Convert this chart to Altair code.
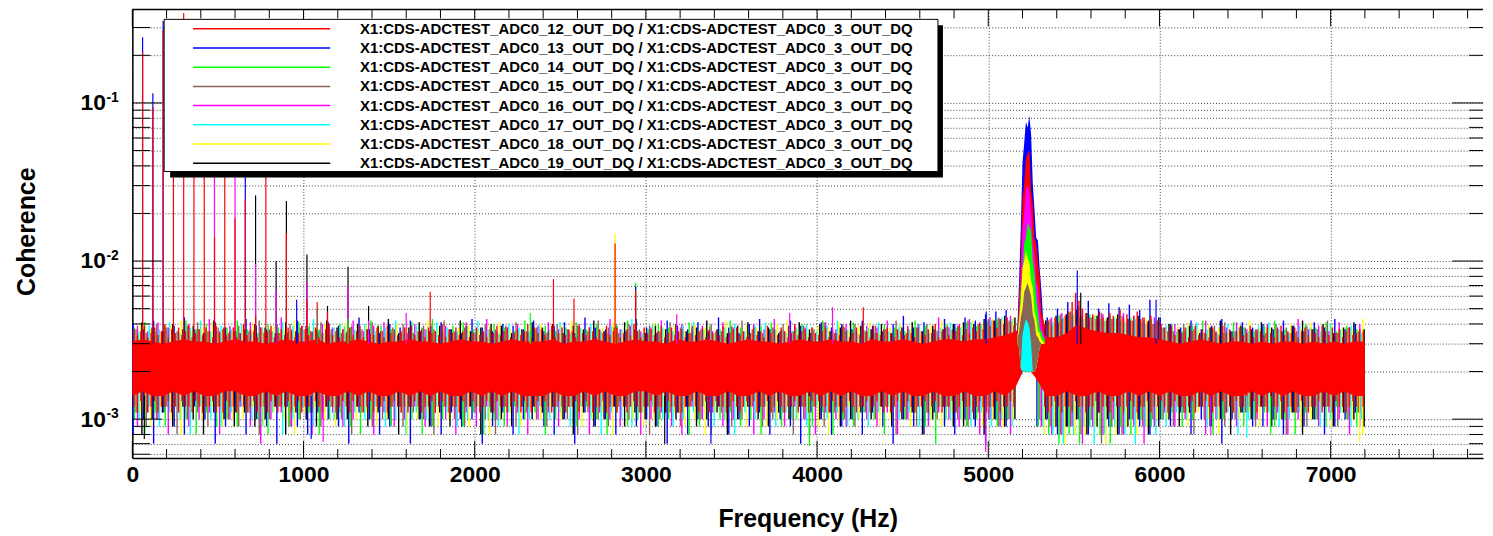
import altair as alt
import pandas as pd

# ---------------------------------------------------------------- data
CHANNELS = [12, 13, 14, 15, 16, 17, 18, 19]
SERIES = [f"X1:CDS-ADCTEST_ADC0_{c}_OUT_DQ / X1:CDS-ADCTEST_ADC0_3_OUT_DQ" for c in CHANNELS]
KEYS = ["red", "blue", "green", "brown", "magenta", "cyan", "yellow", "black"]
COLORS = ["#ff0000", "#0000ff", "#00ff00", "#876657", "#ff00ff", "#00ffff", "#ffff00", "#000000"]

# red trace (ADC0_12) sampled every 20 Hz: upper / lower extent, units of 1e-4
RED_FREQ = list(range(10, 7200, 20))
RED_HI = [
    37, 34, 36, 39, 33, 35, 38, 34, 36, 40, 33, 37, 35, 38, 34, 36, 39, 33, 35, 37,
    34, 38, 36, 33, 39, 35, 37, 34, 36, 38, 33, 35, 40, 34, 37, 36, 33, 38, 35, 36,
    39, 33, 35, 37, 34, 38, 36, 33, 35, 39, 37, 34, 36, 38, 33, 35, 37, 40, 34, 36,
    33, 37, 35, 38, 34, 36, 39, 33, 37, 35, 34, 38, 36, 33, 39, 35, 37, 34, 36, 38,
    35, 39, 34, 36, 37, 33, 38, 35, 36, 34, 40, 33, 37, 35, 38, 34, 36, 39, 33, 35,
    38, 34, 36, 33, 37, 35, 39, 34, 36, 38, 33, 35, 37, 34, 36, 40, 33, 38, 35, 37,
    34, 36, 39, 33, 35, 38, 34, 37, 36, 33, 39, 35, 34, 38, 36, 33, 37, 35, 39, 34,
    36, 38, 33, 35, 37, 34, 40, 36, 33, 38, 35, 37, 34, 36, 39, 33, 35, 38, 34, 36,
    37, 33, 35, 39, 34, 36, 38, 33, 37, 35, 36, 34, 39, 33, 35, 37, 38, 34, 36, 33,
    35, 38, 34, 36, 33, 39, 35, 37, 34, 38, 36, 33, 35, 40, 34, 36, 37, 33, 38, 35,
    34, 36, 38, 33, 37, 35, 34, 39, 36, 33, 35, 38, 34, 37, 36, 33, 39, 35, 34, 37,
    38, 35, 33, 37, 36, 34, 39, 35, 33, 38, 36, 34, 37, 35, 40, 33, 36, 38, 34, 37,
    36, 39, 34, 37, 35, 38, 36, 40, 37, 41, 39, 42, 38, 43, 40, 44, 41, 39, 34, 34,
    34, 34, 34, 34, 34, 34, 40, 42, 39, 44, 41, 43, 45, 48, 55, 63, 56, 50, 47, 44,
    46, 43, 48, 44, 42, 47, 45, 43, 49, 44, 46, 42, 45, 48, 43, 44, 41, 45, 40, 42,
    40, 38, 36, 39, 34, 37, 35, 38, 33, 36, 39, 34, 37, 35, 33, 38, 36, 34, 39, 35,
    37, 33, 36, 38, 34, 35, 39, 33, 37, 36, 34, 38, 35, 33, 37, 39, 34, 36, 35, 38,
    33, 36, 38, 34, 37, 35, 33, 39, 36, 34, 38, 35, 37, 33, 36, 38, 34, 35, 37, 36,
]
RED_LO = [
    12, 11, 13, 12, 11, 12, 13, 11, 12, 12, 13, 11, 12, 11, 13, 12, 12, 11, 13, 12,
    11, 12, 12, 13, 11, 12, 11, 13, 12, 12, 11, 13, 12, 11, 12, 13, 11, 12, 12, 11,
    13, 12, 11, 12, 12, 13, 11, 12, 13, 11, 12, 12, 11, 13, 12, 11, 12, 13, 12, 11,
    12, 13, 12, 11, 13, 12, 12, 11, 12, 13, 11, 12, 12, 13, 11, 12, 13, 12, 11, 12,
    11, 12, 13, 12, 11, 12, 12, 13, 11, 12, 13, 12, 11, 12, 12, 11, 13, 12, 12, 13,
    12, 11, 12, 13, 12, 11, 13, 12, 12, 11, 12, 13, 12, 11, 13, 12, 11, 12, 13, 12,
    13, 12, 11, 12, 13, 12, 11, 12, 12, 13, 11, 12, 13, 12, 11, 12, 12, 13, 11, 12,
    12, 11, 13, 12, 11, 12, 13, 12, 11, 12, 12, 13, 11, 12, 12, 11, 13, 12, 12, 11,
    11, 12, 12, 13, 12, 11, 12, 13, 11, 12, 13, 12, 12, 11, 12, 13, 12, 11, 12, 13,
    12, 13, 11, 12, 12, 13, 11, 12, 13, 12, 11, 12, 12, 13, 11, 12, 12, 11, 13, 12,
    13, 12, 12, 11, 13, 12, 12, 11, 12, 13, 12, 11, 12, 12, 13, 11, 12, 13, 12, 11,
    12, 11, 12, 13, 11, 12, 13, 12, 11, 12, 12, 13, 11, 12, 13, 12, 11, 12, 12, 13,
    11, 12, 13, 12, 12, 11, 12, 13, 12, 11, 12, 12, 13, 11, 12, 12, 13, 12, 20, 20,
    21, 21, 21, 21, 20, 20, 12, 11, 12, 13, 12, 11, 12, 12, 11, 13, 12, 12, 11, 12,
    12, 13, 11, 12, 12, 11, 13, 12, 12, 11, 12, 13, 12, 11, 12, 12, 13, 11, 12, 12,
    13, 12, 11, 12, 13, 12, 12, 11, 12, 13, 11, 12, 12, 13, 12, 11, 12, 12, 13, 11,
    12, 11, 13, 12, 12, 11, 12, 13, 11, 12, 12, 11, 13, 12, 12, 13, 11, 12, 12, 11,
    12, 13, 12, 11, 12, 12, 13, 11, 12, 12, 11, 13, 12, 12, 11, 12, 13, 12, 11, 12,
]

# the other seven traces, 60 Hz bins (centres 30 ... 7170): upper / lower extent, units of 1e-4
BIN_FREQ = list(range(30, 7200, 60))
HI = {
    "blue": [40, 37, 42, 36, 39, 44, 37, 35, 41, 38, 36, 43, 39, 37, 40, 35, 42, 38, 36, 41,
             39, 36, 44, 37, 35, 40, 38, 42, 36, 39, 41, 37, 35, 43, 38, 36, 40, 39, 37, 42,
             36, 39, 41, 35, 44, 38, 37, 40, 36, 43, 38, 35, 42, 39, 37, 41, 36, 44, 38, 35,
             40, 43, 37, 36, 42, 39, 35, 41, 38, 40, 37, 42, 39, 36, 40, 45, 38, 41, 37, 43,
             40, 44, 42, 46, 48, 49, 30, 30, 40, 44, 50, 55, 52, 56, 50, 54, 51, 53, 49, 57,
             44, 40, 38, 42, 37, 39, 43, 36, 41, 38, 40, 37, 42, 39, 36, 41, 38, 43, 37, 40],
    "green": [38, 41, 36, 39, 35, 42, 37, 40, 36, 38, 42, 37, 35, 40, 38, 36, 41, 39, 37, 35,
              40, 38, 36, 42, 39, 37, 35, 41, 38, 43, 36, 39, 41, 37, 35, 40, 38, 36, 42, 37,
              39, 36, 38, 41, 37, 40, 35, 39, 42, 36, 37, 40, 38, 35, 41, 36, 39, 37, 42, 38,
              35, 39, 41, 37, 36, 40, 38, 42, 36, 39, 41, 37, 35, 40, 38, 36, 42, 39, 37, 40,
              38, 41, 39, 42, 43, 41, 30, 30, 38, 42, 45, 47, 44, 46, 43, 45, 42, 44, 41, 43,
              38, 40, 36, 39, 42, 37, 35, 41, 38, 36, 39, 42, 37, 35, 40, 38, 41, 36, 39, 37],
    "brown": [37, 35, 40, 38, 36, 39, 41, 36, 38, 35, 39, 36, 42, 37, 35, 40, 38, 36, 41, 37,
              35, 39, 37, 41, 36, 38, 40, 35, 39, 37, 42, 36, 38, 35, 40, 37, 39, 41, 36, 38,
              35, 40, 37, 39, 36, 42, 38, 35, 40, 37, 39, 36, 41, 38, 35, 37, 40, 36, 39, 42,
              37, 35, 38, 40, 36, 39, 37, 41, 35, 38, 40, 36, 39, 37, 42, 35, 38, 40, 36, 39,
              39, 42, 40, 43, 44, 42, 30, 30, 39, 43, 46, 48, 45, 44, 47, 43, 45, 42, 44, 40,
              38, 36, 40, 37, 35, 39, 41, 36, 38, 37, 35, 40, 38, 36, 39, 37, 42, 35, 38, 36],
    "magenta": [39, 36, 41, 38, 35, 40, 37, 43, 36, 39, 35, 41, 38, 36, 44, 37, 39, 35, 40, 38,
                37, 42, 36, 39, 41, 35, 38, 40, 37, 36, 39, 35, 41, 37, 43, 36, 38, 40, 35, 39,
                41, 37, 36, 40, 38, 35, 43, 37, 39, 36, 38, 42, 35, 40, 37, 39, 36, 41, 38, 35,
                40, 37, 43, 36, 39, 38, 35, 41, 37, 40, 36, 39, 38, 42, 35, 37, 40, 36, 44, 38,
                40, 43, 41, 44, 43, 45, 30, 30, 40, 44, 47, 45, 48, 44, 46, 43, 47, 45, 42, 44,
                37, 40, 36, 39, 42, 35, 38, 41, 37, 36, 40, 38, 35, 43, 37, 39, 36, 41, 38, 40],
    "cyan": [36, 39, 37, 41, 35, 38, 42, 36, 39, 37, 40, 35, 38, 36, 41, 39, 37, 43, 35, 38,
             39, 37, 40, 36, 38, 42, 35, 39, 37, 41, 38, 36, 39, 42, 37, 35, 40, 38, 36, 39,
             37, 41, 35, 38, 40, 36, 39, 37, 43, 35, 40, 38, 36, 39, 41, 37, 35, 38, 40, 36,
             39, 41, 37, 35, 38, 40, 36, 39, 42, 37, 35, 38, 41, 36, 39, 37, 40, 35, 38, 41,
             38, 41, 40, 42, 44, 43, 30, 30, 38, 41, 44, 46, 43, 45, 42, 44, 41, 43, 40, 42,
             39, 36, 38, 41, 37, 35, 40, 38, 36, 39, 41, 37, 35, 39, 38, 36, 40, 37, 39, 35],
    "yellow": [40, 37, 35, 39, 42, 36, 38, 41, 37, 35, 38, 40, 36, 39, 37, 42, 35, 38, 40, 36,
               41, 36, 39, 37, 35, 40, 38, 36, 42, 37, 35, 38, 40, 36, 39, 41, 37, 35, 38, 40,
               36, 39, 42, 37, 35, 38, 41, 36, 39, 37, 41, 37, 39, 36, 40, 38, 35, 42, 37, 39,
               38, 36, 40, 42, 37, 35, 39, 38, 41, 36, 39, 41, 36, 38, 40, 37, 35, 39, 42, 36,
               39, 42, 40, 43, 42, 44, 30, 30, 41, 43, 45, 47, 44, 46, 43, 45, 42, 44, 43, 41,
               36, 39, 41, 37, 40, 38, 35, 39, 42, 37, 38, 36, 40, 37, 41, 35, 39, 38, 36, 43],
    "black": [41, 38, 36, 40, 37, 39, 35, 42, 38, 36, 37, 40, 38, 35, 41, 36, 39, 37, 42, 38,
              36, 40, 37, 39, 43, 35, 38, 41, 36, 39, 37, 42, 36, 38, 40, 39, 35, 37, 41, 38,
              40, 35, 39, 37, 42, 36, 38, 41, 37, 35, 39, 37, 40, 36, 38, 42, 37, 35, 39, 41,
              36, 38, 35, 39, 41, 37, 40, 36, 38, 42, 39, 37, 40, 35, 38, 41, 36, 39, 37, 40,
              41, 40, 43, 42, 45, 44, 30, 30, 42, 45, 46, 49, 47, 45, 44, 46, 43, 45, 42, 44,
              40, 37, 39, 35, 38, 42, 36, 39, 37, 41, 38, 36, 39, 42, 37, 40, 35, 38, 41, 37],
}
LO = {
    "blue": [8, 10, 7, 11, 9, 8, 12, 10, 7, 9, 11, 8, 10, 9, 7, 12, 9, 8, 11, 10,
             9, 7, 11, 10, 8, 9, 12, 7, 10, 9, 8, 11, 9, 10, 7, 9, 11, 8, 10, 12,
             9, 8, 10, 7, 11, 9, 10, 8, 12, 9, 10, 9, 7, 11, 8, 10, 9, 12, 8, 10,
             9, 11, 8, 10, 9, 7, 11, 10, 8, 9, 10, 8, 11, 9, 7, 10, 9, 8, 11, 9,
             8, 10, 9, 7, 10, 9, 20, 21, 9, 10, 8, 9, 10, 8, 11, 9, 8, 10, 9, 8,
             10, 9, 11, 8, 10, 9, 7, 10, 11, 9, 9, 10, 8, 11, 9, 10, 8, 9, 10, 11],
    "green": [10, 8, 11, 9, 12, 10, 8, 11, 9, 10, 9, 11, 10, 8, 12, 9, 10, 11, 8, 10,
              11, 9, 8, 10, 12, 9, 11, 10, 8, 9, 10, 12, 9, 11, 8, 10, 9, 12, 10, 11,
              8, 10, 11, 9, 12, 10, 8, 11, 9, 10, 12, 9, 10, 11, 8, 9, 12, 10, 11, 9,
              10, 8, 11, 9, 10, 12, 9, 11, 8, 10, 9, 11, 10, 8, 12, 10, 11, 9, 7, 10,
              11, 9, 10, 12, 9, 10, 19, 20, 9, 8, 7, 8, 7, 9, 8, 7, 9, 8, 10, 9,
              10, 11, 9, 10, 12, 8, 10, 11, 9, 10, 11, 9, 10, 8, 11, 10, 9, 12, 10, 9],
    "brown": [11, 9, 10, 12, 8, 10, 11, 9, 12, 10, 9, 11, 8, 10, 12, 9, 10, 11, 9, 12,
              10, 8, 11, 9, 10, 12, 9, 11, 10, 8, 12, 10, 9, 11, 10, 8, 12, 9, 11, 10,
              9, 12, 10, 8, 11, 10, 9, 12, 10, 11, 8, 10, 11, 9, 12, 10, 8, 11, 9, 10,
              12, 9, 10, 11, 8, 10, 12, 9, 11, 10, 9, 11, 10, 12, 8, 10, 9, 11, 10, 12,
              10, 9, 11, 10, 9, 10, 20, 21, 10, 9, 8, 9, 8, 10, 7, 9, 8, 10, 9, 10,
              10, 9, 11, 8, 10, 12, 9, 10, 11, 9, 12, 10, 8, 11, 9, 10, 12, 9, 10, 11],
    "magenta": [9, 11, 10, 8, 12, 9, 10, 11, 8, 10, 12, 9, 7, 10, 11, 9, 12, 8, 10, 11,
                9, 10, 12, 8, 11, 9, 10, 12, 9, 11, 10, 8, 11, 9, 12, 10, 9, 11, 8, 10,
                11, 9, 12, 10, 8, 11, 10, 9, 12, 8, 10, 11, 9, 8, 12, 10, 11, 9, 10, 12,
                8, 10, 11, 9, 12, 10, 8, 11, 10, 9, 12, 10, 9, 11, 8, 10, 12, 9, 11, 10,
                9, 10, 8, 10, 9, 8, 20, 20, 9, 8, 8, 9, 7, 9, 8, 10, 8, 9, 7, 9,
                11, 9, 10, 12, 8, 10, 11, 9, 12, 10, 9, 11, 8, 10, 12, 9, 11, 10, 8, 9],
    "cyan": [10, 12, 9, 11, 10, 8, 12, 10, 9, 11, 12, 10, 9, 11, 8, 10, 12, 9, 11, 10,
             9, 11, 10, 12, 9, 10, 8, 11, 10, 12, 11, 9, 10, 12, 10, 9, 11, 8, 10, 12,
             10, 11, 9, 12, 10, 8, 11, 10, 9, 11, 12, 10, 9, 10, 11, 12, 9, 10, 8, 11,
             10, 12, 9, 11, 10, 9, 12, 10, 11, 9, 10, 9, 11, 12, 10, 11, 9, 10, 12, 10,
             10, 9, 11, 9, 10, 9, 19, 20, 9, 8, 7, 8, 9, 7, 8, 9, 8, 7, 9, 8,
             9, 11, 10, 12, 9, 10, 11, 8, 10, 12, 11, 9, 10, 11, 12, 9, 10, 11, 9, 10],
    "yellow": [11, 9, 12, 10, 8, 11, 10, 12, 9, 10, 10, 12, 9, 11, 10, 8, 11, 12, 10, 9,
               12, 10, 11, 9, 10, 12, 8, 10, 11, 9, 10, 11, 9, 12, 8, 10, 11, 9, 12, 10,
               11, 10, 12, 9, 10, 11, 8, 12, 10, 9, 10, 12, 11, 9, 10, 8, 11, 10, 12, 9,
               11, 9, 10, 12, 10, 11, 9, 8, 10, 12, 10, 12, 9, 10, 11, 9, 12, 10, 9, 11,
               10, 11, 9, 10, 9, 10, 20, 21, 8, 9, 7, 8, 8, 9, 7, 8, 9, 8, 9, 10,
               10, 12, 9, 11, 10, 8, 12, 10, 11, 9, 12, 10, 11, 9, 10, 12, 9, 11, 10, 8],
    "black": [8, 10, 11, 9, 12, 10, 8, 11, 10, 9, 11, 9, 10, 12, 8, 11, 10, 9, 12, 10,
              10, 12, 9, 11, 10, 8, 12, 10, 9, 11, 9, 10, 12, 8, 11, 10, 9, 12, 10, 11,
              12, 10, 8, 11, 9, 10, 12, 9, 11, 10, 9, 11, 10, 12, 9, 10, 11, 8, 10, 12,
              10, 9, 11, 10, 12, 8, 10, 11, 9, 10, 11, 10, 12, 9, 10, 11, 8, 10, 12, 9,
              9, 10, 8, 10, 9, 10, 20, 21, 10, 9, 9, 10, 8, 9, 10, 8, 9, 10, 8, 9,
              10, 9, 11, 12, 9, 10, 8, 11, 10, 12, 9, 10, 11, 8, 10, 12, 9, 11, 10, 9],
}

# dense core of the red trace, at 60 Hz steps 0 ... 7200 Hz (units of 1e-4)
CORE_FREQ = list(range(0, 7201, 60))
CORE_HI = [31, 32, 31, 30, 31, 32, 31, 31, 30, 31, 32, 31, 31, 30, 31, 32, 31, 31, 32, 30,
           31, 31, 32, 31, 30, 31, 31, 32, 31, 31, 30, 31, 32, 31, 31, 30, 31, 32, 31, 31,
           31, 32, 30, 31, 31, 32, 31, 30, 31, 32, 31, 31, 30, 32, 31, 31, 32, 31, 30, 31,
           32, 31, 31, 30, 31, 32, 31, 31, 32, 31, 31, 30, 32, 31, 31, 32, 31, 30, 31, 32,
           32, 31, 32, 32, 33, 34, 36, 40, 38, 33, 33, 35, 40, 37, 36, 35, 35, 34, 33, 33,
           32, 31, 30, 31, 32, 31, 30, 31, 31, 30, 31, 30, 31, 31, 30, 31, 30, 31, 30, 31, 31]
CORE_LO = [14, 15, 14, 14, 15, 14, 15, 14, 14, 15, 15, 14, 14, 15, 14, 15, 14, 14, 15, 14,
           14, 15, 14, 15, 14, 14, 15, 14, 15, 14, 15, 14, 14, 15, 14, 15, 14, 15, 14, 14,
           14, 15, 14, 14, 15, 14, 15, 14, 14, 15, 15, 14, 15, 14, 14, 15, 14, 14, 15, 14,
           14, 15, 14, 15, 14, 14, 15, 14, 15, 14, 15, 14, 14, 15, 14, 15, 14, 14, 15, 14,
           14, 15, 14, 14, 15, 14, 16, 22, 18, 14, 14, 15, 14, 14, 15, 14, 14, 15, 14, 15,
           14, 15, 14, 14, 15, 14, 15, 14, 14, 15, 14, 15, 14, 15, 14, 14, 15, 14, 15, 14, 14]

# the resonance near 5.23 kHz, 10 Hz steps (units of 1e-4)
PEAK_FREQ = list(range(5170, 5331, 10))
PEAK_HI = {
    "blue":    [38, 75, 160, 420, 560, 760, 700, 830, 640, 310, 210, 140, 135, 90, 66, 44, 36],
    "black":   [35, 52, 90, 200, 260, 380, 410, 430, 240, 190, 120, 110, 85, 72, 46, 41, 34],
    "red":     [36, 60, 105, 250, 310, 440, 480, 500, 280, 230, 140, 130, 100, 80, 48, 44, 35],
    "magenta": [34, 48, 75, 160, 200, 290, 300, 270, 210, 130, 110, 75, 68, 48, 41, 36, 33],
    "green":   [33, 42, 65, 85, 130, 140, 175, 165, 155, 100, 85, 58, 48, 37, 36, 33, 32],
    "yellow":  [32, 42, 55, 90, 100, 117, 105, 98, 75, 68, 48, 43, 36, 35, 32, 31, 30],
    "brown":   [32, 36, 44, 50, 64, 68, 73, 66, 60, 46, 42, 34, 33, 31, 30, 30, 30],
    "cyan":    [30, 28, 21, 34, 39, 43, 41, 38, 30, 20, 20, 21, 24, 28, 30, 30, 30],
}
PEAK_LO = [30, 28, 21, 20, 20, 20, 20, 20, 20, 20, 20, 21, 24, 28, 30, 30, 30]

# narrow lines (Hz, trace, coherence)
SPIKES = [
    (60, "blue", 0.26), (60, "red", 0.21), (120, "blue", 0.115), (120, "red", 0.094),
    (180, "blue", 0.33), (180, "red", 0.29), (240, "red", 0.14), (300, "red", 0.37),
    (360, "red", 0.11), (420, "red", 0.085), (480, "magenta", 0.06), (480, "red", 0.0142),
    (540, "red", 0.075), (600, "magenta", 0.05), (600, "red", 0.0186),
    (660, "blue", 0.045), (660, "red", 0.0245),
    (720, "black", 0.026), (720, "magenta", 0.0096), (720, "red", 0.0045),
    (780, "red", 0.055), (840, "black", 0.0100), (840, "magenta", 0.0066),
    (900, "black", 0.024), (900, "red", 0.015), (960, "blue", 0.0057),
    (1020, "black", 0.011), (1020, "magenta", 0.0074), (1020, "red", 0.0057),
    (1080, "red", 0.0055), (1080, "brown", 0.0050), (1140, "black", 0.0052), (1140, "red", 0.0048),
    (1260, "black", 0.0092), (1260, "magenta", 0.0069), (1260, "green", 0.0043),
    (1380, "black", 0.0052), (1380, "magenta", 0.0042), (1600, "magenta", 0.0047),
    (1740, "red", 0.0064), (2325, "green", 0.0047), (2460, "red", 0.0077), (2580, "red", 0.0058),
    (2820, "yellow", 0.0148), (2820, "red", 0.0129),
    (2940, "green", 0.0073), (2940, "blue", 0.0069), (2940, "red", 0.0065),
    (3180, "magenta", 0.0046), (3840, "magenta", 0.0047), (4090, "magenta", 0.0051),
    (4270, "red", 0.0051), (4988, "blue", 0.0048),
    (5520, "blue", 0.0087), (5540, "black", 0.0063), (5980, "blue", 0.0057),
]
DIPS = [
    (70, "black", 0.00075), (1045, "blue", 0.00075), (1115, "magenta", 0.00072),
    (3110, "black", 0.00070), (3380, "blue", 0.00070), (3955, "green", 0.00068),
    (4985, "magenta", 0.00062), (6300, "magenta", 0.00079), (6510, "cyan", 0.00076),
    (6650, "green", 0.00080), (7170, "yellow", 0.00072),
]

# axes
X_MAJOR = [0, 1000, 2000, 3000, 4000, 5000, 6000, 7000]
X_MINOR = [200, 400, 600, 800, 1200, 1400, 1600, 1800, 2200, 2400, 2600, 2800,
           3200, 3400, 3600, 3800, 4200, 4400, 4600, 4800, 5200, 5400, 5600, 5800,
           6200, 6400, 6600, 6800, 7200, 7400, 7600, 7800]
Y_DECADES = [0.001, 0.01, 0.1]
Y_MINOR = [0.0006, 0.0007, 0.0008, 0.0009,
           0.002, 0.003, 0.004, 0.005, 0.006, 0.007, 0.008, 0.009,
           0.02, 0.03, 0.04, 0.05, 0.06, 0.07, 0.08, 0.09, 0.2, 0.3]
Y_SUP = ["-3", "-2", "-1"]

# ---------------------------------------------------------------- build
OTHERS = KEYS[1:]
for k in OTHERS:
    assert len(HI[k]) == len(BIN_FREQ) and len(LO[k]) == len(BIN_FREQ), k
for k in KEYS:
    assert len(PEAK_HI[k]) == len(PEAK_FREQ), k
assert len(RED_HI) == len(RED_FREQ) and len(RED_LO) == len(RED_FREQ)
assert len(CORE_HI) == len(CORE_FREQ) and len(CORE_LO) == len(CORE_FREQ)

NAME = dict(zip(KEYS, SERIES))
COLOR = dict(zip(KEYS, COLORS))
# the seven traces are interleaved inside each 60 Hz bin
OFFSET = {k: -30 + 60 * (i + 0.5) / len(OTHERS) for i, k in enumerate(OTHERS)}
U = 1e-4

rows_other = []
for k in OTHERS:
    for f, lo, hi in zip(BIN_FREQ, LO[k], HI[k]):
        rows_other.append({"freq": f + OFFSET[k], "coh": lo * U, "coh2": hi * U, "series": NAME[k]})
df_other = pd.DataFrame(rows_other)
df_red = pd.DataFrame({"freq": RED_FREQ, "coh": [v * U for v in RED_LO],
                       "coh2": [v * U for v in RED_HI], "series": NAME["red"]})
df_core = pd.DataFrame({"freq": CORE_FREQ, "coh": [v * U for v in CORE_LO],
                        "coh2": [v * U for v in CORE_HI]})

spk = [{"freq": f, "series": NAME[k], "coh": 0.003, "coh2": v} for f, k, v in SPIKES]
spk += [{"freq": f, "series": NAME[k], "coh": 0.0014, "coh2": v} for f, k, v in DIPS]
df_spk = pd.DataFrame(spk)
df_spk["mag"] = (df_spk["coh2"] / df_spk["coh"]).apply(lambda r: max(r, 1 / r))
df_spk = df_spk.sort_values("mag", ascending=False).drop(columns="mag")

FONT = "Liberation Sans"
W, H = 1358, 451
XSCALE = alt.Scale(domain=[0, 7890], nice=False, zero=False)
YSCALE = alt.Scale(type="log", domain=[0.000568, 0.3902], nice=False, clamp=True)
CSCALE = alt.Scale(domain=SERIES, range=COLORS)

XAXIS = alt.Axis(values=X_MAJOR, format="d", grid=True, gridDash=[1, 2], gridColor="#444",
                 gridWidth=1, ticks=False, tickSize=0, domain=True, domainColor="black",
                 domainWidth=1.5,
                 labelFont=FONT, labelFontWeight="bold", labelFontSize=23, labelColor="black",
                 labelPadding=6, labelFlush=False, labelOverlap=False,
                 titleFont=FONT, titleFontWeight="bold", titleFontSize=25, titleColor="black",
                 titleY=69, titleBaseline="alphabetic")
YAXIS = alt.Axis(values=sorted(Y_DECADES + Y_MINOR), grid=True, gridDash=[1, 2], gridColor="#444",
                 gridWidth=1, ticks=False, tickSize=0, domain=True, domainColor="black",
                 domainWidth=1.5,
                 labelExpr="(datum.value == 0.1 || datum.value == 0.01 || datum.value == 0.001) ? '10' : ''",
                 labelFont=FONT, labelFontWeight="bold", labelFontSize=23, labelColor="black",
                 labelPadding=27, labelAlign="right", labelBaseline="middle", labelFlush=False,
                 labelOverlap=False,
                 titleFont=FONT, titleFontWeight="bold", titleFontSize=25, titleColor="black",
                 titleX=-106, titleY=223, titleAngle=270, titleAlign="center",
                 titleBaseline="middle")
LEGEND = alt.Legend(orient="none", legendX=32, legendY=10, direction="vertical", title=None,
                    symbolType="stroke", symbolSize=19044, symbolStrokeWidth=1.5,
                    symbolOffset=26, labelOffset=29, labelFont=FONT, labelFontWeight="bold",
                    labelFontSize=15, labelColor="black", labelLimit=1000,
                    padding=2, rowPadding=3.3, clipHeight=15)


def X():
    return alt.X("freq:Q", scale=XSCALE, axis=XAXIS, title="Frequency (Hz)")


def Y():
    return alt.Y("coh:Q", scale=YSCALE, axis=YAXIS, title="Coherence")


def C():
    return alt.Color("series:N", scale=CSCALE, legend=LEGEND)


layers = []
layers.append(alt.Chart(df_other).mark_rule(strokeWidth=1.4).encode(
    x=X(), y=Y(), y2="coh2:Q", color=C()))
layers.append(alt.Chart(df_core).mark_area(color="#ff0000", opacity=1).encode(
    x=X(), y=Y(), y2="coh2:Q"))
layers.append(alt.Chart(df_red).mark_rule(strokeWidth=1.4).encode(
    x=X(), y=Y(), y2="coh2:Q", color=C()))
for k in ["blue", "black", "red", "magenta", "green", "yellow", "brown", "cyan"]:
    dpk = pd.DataFrame({"freq": PEAK_FREQ, "coh": [v * U for v in PEAK_LO],
                        "coh2": [max(v, lo) * U for v, lo in zip(PEAK_HI[k], PEAK_LO)]})
    layers.append(alt.Chart(dpk).mark_area(color=COLOR[k], opacity=1, interpolate="linear").encode(
        x=X(), y=Y(), y2="coh2:Q"))
layers.append(alt.Chart(df_spk).mark_rule(strokeWidth=1.2).encode(
    x=X(), y=Y(), y2="coh2:Q", color=C()))

# inward ticks on all four sides (ROOT style)
dxM = pd.DataFrame({"freq": X_MAJOR})
dxm = pd.DataFrame({"freq": X_MINOR})
dyM = pd.DataFrame({"coh": Y_DECADES})
dym = pd.DataFrame({"coh": Y_MINOR})
tick = dict(color="black", strokeWidth=1)
layers += [
    alt.Chart(dxM).mark_rule(**tick).encode(x=X(), y=alt.value(H), y2=alt.value(H - 17)),
    alt.Chart(dxM).mark_rule(**tick).encode(x=X(), y=alt.value(0), y2=alt.value(17)),
    alt.Chart(dxm).mark_rule(**tick).encode(x=X(), y=alt.value(H), y2=alt.value(H - 9)),
    alt.Chart(dxm).mark_rule(**tick).encode(x=X(), y=alt.value(0), y2=alt.value(9)),
    alt.Chart(dyM).mark_rule(**tick).encode(y=Y(), x=alt.value(0), x2=alt.value(30)),
    alt.Chart(dyM).mark_rule(**tick).encode(y=Y(), x=alt.value(W - 31), x2=alt.value(W)),
    alt.Chart(dym).mark_rule(**tick).encode(y=Y(), x=alt.value(0), x2=alt.value(18)),
    alt.Chart(dym).mark_rule(**tick).encode(y=Y(), x=alt.value(W - 14), x2=alt.value(W)),
]
one = alt.Data(values=[{}])
# top frame line
layers.append(alt.Chart(one).mark_rule(color="black", strokeWidth=1.5).encode(
    x=alt.value(0), x2=alt.value(W), y=alt.value(0)))
# legend box with its drop shadow (the legend entries are drawn on top)
layers.append(alt.Chart(one).mark_rect(color="black").encode(
    x=alt.value(38), x2=alt.value(815), y=alt.value(16), y2=alt.value(169)))
layers.append(alt.Chart(one).mark_rect(fill="white", stroke="black", strokeWidth=1).encode(
    x=alt.value(32), x2=alt.value(810), y=alt.value(10), y2=alt.value(163)))
# decade exponents of the y labels
dsup = pd.DataFrame({"coh": Y_DECADES, "sup": Y_SUP})
layers.append(alt.Chart(dsup).mark_text(align="left", baseline="middle", font=FONT,
                                        fontWeight="bold", fontSize=14, dy=-5, color="black").encode(
    x=alt.value(-26), y=Y(), text="sup:N"))

chart = alt.layer(*layers).properties(
    width=W, height=H,
    autosize=alt.AutoSizeParams(type="none"),
    padding={"left": 125, "top": 0, "right": 2, "bottom": 76},
).configure_view(stroke=None)

chart.save("out.html", embed_options={"renderer": "svg", "actions": False})
